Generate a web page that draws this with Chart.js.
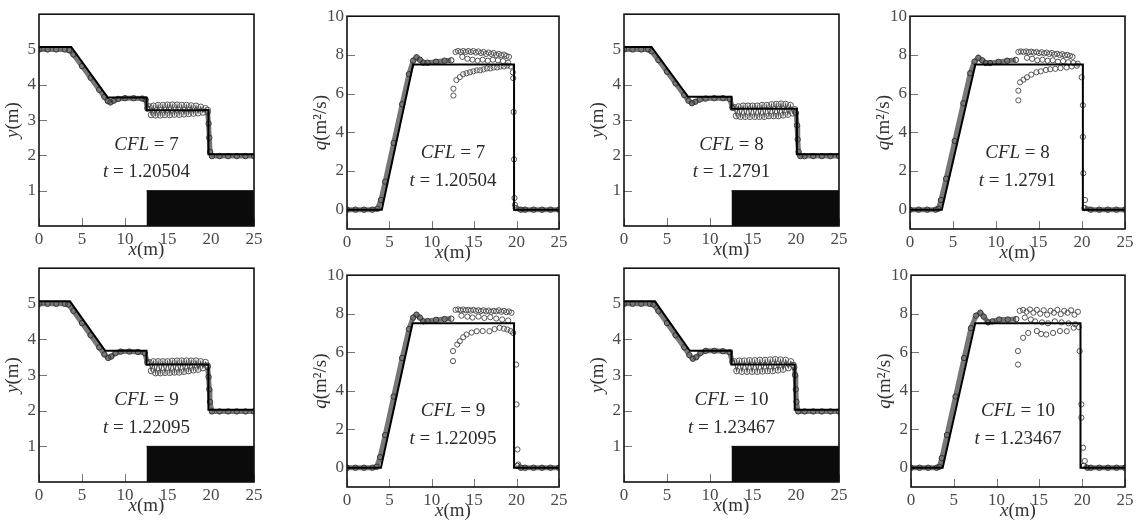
<!DOCTYPE html>
<html lang="en">
<head>
<meta charset="UTF-8">
<title>Dam break over a step: depth and discharge, CFL 7-10</title>
<script src="https://cdn.jsdelivr.net/npm/chart.js"></script>
<style>
  body { margin: 0; width: 1136px; height: 522px; background: #fff; position: relative; overflow: hidden; }
  .panel { position: absolute; }
</style>
</head>
<body>
<script>
// ---- data -------------------------------------------------------------
const xTicks = [0, 5, 10, 15, 20, 25];
const hTicks = [1, 2, 3, 4, 5];
const qTicks = [0, 2, 4, 6, 8, 10];
const cflValues = [7, 8, 9, 10];
const timeLabels = ['1.20504', '1.2791', '1.22095', '1.23467'];
const bedStep = [[12.5, 1], [25, 1]];

// CFL = 7
const hExact7 = [[0,5.07],[3.75,5.07],[8.0,3.64],[12.5,3.64],[12.5,3.28],[19.7,3.28],[19.7,2.03],[25,2.03]];
const hBand7 = [[0,5.0],[1,5.0],[2,5.0],[3,5.0],[3.5,4.98],[4,4.86],[5,4.53],[6,4.2],[7,3.86],[7.6,3.66],[8.0,3.54],[8.3,3.5],[8.7,3.55],[9.2,3.6],[10,3.62],[11,3.62],[12,3.61],[12.4,3.58],[12.6,3.33],[12.7,null],[19.6,3.22],[19.72,2.9],[19.8,2.5],[19.9,2.1],[20.1,1.98],[21,1.98],[22,1.98],[23,1.98],[24,1.98],[25,1.98]];
const hWiggle7 = [[12.8,3.38],[13.05,3.15],[13.3,3.4],[13.55,3.14],[13.85,3.42],[14.1,3.14],[14.4,3.42],[14.65,3.15],[14.95,3.43],[15.2,3.15],[15.5,3.43],[15.75,3.16],[16.05,3.43],[16.3,3.16],[16.6,3.42],[16.85,3.17],[17.15,3.42],[17.4,3.18],[17.7,3.41],[17.95,3.19],[18.25,3.4],[18.5,3.2],[18.8,3.37],[19.05,3.22],[19.35,3.33],[19.6,3.28]];
const qExact7 = [[0,0],[4.1,0],[7.8,7.5],[19.7,7.5],[19.7,0],[25,0]];
const qBand7 = [[0,0],[1,0],[2,0],[3,0],[3.6,0.05],[4.0,0.5],[4.5,1.45],[5.5,3.45],[6.5,5.45],[7.3,7.0],[7.8,7.7],[8.2,7.88],[8.6,7.75],[9.0,7.6],[9.5,7.6],[10.5,7.65],[11.5,7.7],[12.3,7.72],[12.4,null],[19.9,0.08],[20.5,0],[21,0],[22,0],[23,0],[24,0],[25,0]];
const qScatter7 = [[12.8,8.15],[13.1,8.2],[13.4,8.15],[13.7,8.2],[14.0,8.15],[14.3,8.2],[14.6,8.15],[14.9,8.2],[15.2,8.12],[15.5,8.18],[15.8,8.1],[16.1,8.15],[16.4,8.05],[16.7,8.12],[17.0,8.05],[17.3,8.1],[17.6,8.0],[17.9,8.05],[18.2,7.98],[18.5,8.02],[18.8,7.95],[19.1,7.9],
  [13.6,7.9],[14.2,7.8],[14.8,7.75],[15.4,7.7],[16.0,7.75],[16.6,7.7],[17.2,7.75],[17.8,7.72],[18.4,7.68],[19.0,7.6],
  [12.9,6.7],[13.3,6.85],[13.7,7.0],[14.1,7.05],[14.5,7.1],[14.9,7.15],[15.3,7.2],[15.7,7.2],[16.1,7.25],[16.5,7.3],[16.9,7.3],[17.3,7.35],[17.7,7.35],[18.1,7.4],[18.5,7.4],[18.9,7.45],[19.3,7.4],
  [12.55,6.25],[12.55,5.9],
  [19.55,7.1],[19.6,6.8],[19.65,5.05],[19.7,2.6],[19.75,0.6],[19.8,0.25]];

// CFL = 8
const hExact8 = [[0,5.07],[3.2,5.07],[7.45,3.66],[12.5,3.66],[12.5,3.32],[20.1,3.32],[20.1,2.03],[25,2.03]];
const hBand8 = [[0,5.0],[1,5.0],[2,5.0],[2.8,5.0],[3.2,4.95],[4,4.7],[5,4.37],[6,4.04],[7,3.71],[7.5,3.55],[7.9,3.48],[8.3,3.52],[8.8,3.58],[9.5,3.61],[10.5,3.62],[11.5,3.62],[12.3,3.6],[12.6,3.35],[12.7,null],[20.0,3.2],[20.12,2.85],[20.2,2.45],[20.3,2.1],[20.5,1.98],[21,1.98],[22,1.98],[23,1.98],[24,1.98],[25,1.98]];
const hWiggle8 = [[12.8,3.36],[13.05,3.12],[13.3,3.38],[13.55,3.1],[13.85,3.4],[14.1,3.1],[14.4,3.4],[14.65,3.1],[14.95,3.4],[15.2,3.1],[15.5,3.4],[15.75,3.1],[16.05,3.42],[16.3,3.1],[16.6,3.42],[16.85,3.12],[17.15,3.44],[17.4,3.12],[17.7,3.45],[17.95,3.12],[18.25,3.46],[18.5,3.14],[18.8,3.45],[19.05,3.16],[19.35,3.42],[19.6,3.2],[19.85,3.3]];
const qExact8 = [[0,0],[3.7,0],[7.6,7.5],[20.1,7.5],[20.1,0],[25,0]];
const qBand8 = [[0,0],[1,0],[2,0],[3,0],[3.3,0.05],[3.6,0.5],[4.2,1.6],[5.2,3.55],[6.2,5.5],[7.0,7.05],[7.5,7.65],[7.95,7.85],[8.4,7.72],[8.8,7.58],[9.3,7.58],[10.3,7.64],[11.3,7.7],[12.3,7.74],[12.4,null],[20.3,0.08],[21,0],[22,0],[23,0],[24,0],[25,0]];
const qScatter8 = [[12.6,8.15],[12.9,8.18],[13.2,8.15],[13.5,8.18],[13.8,8.14],[14.1,8.17],[14.4,8.12],[14.7,8.15],[15.0,8.1],[15.3,8.14],[15.6,8.08],[15.9,8.12],[16.2,8.05],[16.5,8.1],[16.8,8.02],[17.1,8.06],[17.4,8.0],[17.7,8.04],[18.0,7.98],[18.3,8.0],[18.6,7.95],[18.9,7.9],
  [13.6,7.85],[14.2,7.8],[14.8,7.72],[15.4,7.75],[16.0,7.7],[16.6,7.72],[17.2,7.65],[17.8,7.68],[18.4,7.62],[19.0,7.58],[19.5,7.55],
  [12.8,6.58],[13.2,6.72],[13.6,6.84],[14.1,6.98],[14.7,7.1],[15.2,7.15],[15.8,7.22],[16.3,7.26],[16.9,7.28],[17.5,7.32],[18.2,7.35],[18.8,7.4],[19.4,7.44],
  [12.6,6.15],[12.6,5.65],
  [19.96,6.84],[20.1,5.4],[20.1,3.76],[20.15,1.88],[20.35,0.5]];

// CFL = 9
const hExact9 = [[0,5.07],[3.6,5.07],[7.7,3.68],[12.5,3.68],[12.5,3.3],[19.7,3.3],[19.7,2.03],[25,2.03]];
const hBand9 = [[0,5.0],[1,5.0],[2,5.0],[3,5.0],[3.4,4.98],[4,4.8],[5,4.46],[6,4.12],[7,3.78],[7.6,3.58],[8.05,3.48],[8.4,3.52],[8.9,3.62],[9.5,3.66],[10.5,3.66],[11.5,3.65],[12.3,3.62],[12.6,3.35],[12.7,null],[19.6,3.22],[19.72,2.95],[19.8,2.6],[19.88,2.25],[20.1,1.98],[21,1.98],[22,1.98],[23,1.98],[24,1.98],[25,1.98]];
const hWiggle9 = [[12.8,3.36],[13.05,3.12],[13.3,3.38],[13.55,3.06],[13.85,3.38],[14.1,3.06],[14.4,3.38],[14.65,3.07],[14.95,3.38],[15.2,3.07],[15.5,3.39],[15.75,3.08],[16.05,3.4],[16.3,3.08],[16.6,3.4],[16.85,3.1],[17.15,3.4],[17.4,3.12],[17.7,3.4],[17.95,3.14],[18.25,3.4],[18.5,3.16],[18.8,3.38],[19.05,3.2],[19.35,3.36],[19.6,3.26]];
const qExact9 = [[0,0],[4.0,0],[7.73,7.5],[19.7,7.5],[19.7,0],[25,0]];
const qBand9 = [[0,0],[1,0],[2,0],[3,0],[3.5,0.05],[3.9,0.55],[4.5,1.7],[5.5,3.7],[6.5,5.7],[7.3,7.2],[7.8,7.8],[8.2,7.95],[8.6,7.8],[9.0,7.6],[9.5,7.62],[10.5,7.68],[11.5,7.72],[12.3,7.74],[12.4,null],[20.1,0.1],[20.5,0],[21,0],[22,0],[23,0],[24,0],[25,0]];
const qScatter9 = [[12.8,8.2],[13.1,8.22],[13.4,8.18],[13.7,8.22],[14.0,8.18],[14.3,8.2],[14.6,8.16],[14.9,8.2],[15.2,8.15],[15.5,8.18],[15.8,8.14],[16.1,8.18],[16.4,8.12],[16.7,8.16],[17.0,8.1],[17.3,8.15],[17.6,8.12],[17.9,8.18],[18.2,8.1],[18.5,8.15],[18.8,8.08],[19.1,8.12],[19.4,8.05],
  [13.5,7.9],[14.2,7.85],[14.8,7.8],[15.5,7.85],[16.2,7.78],[16.9,7.82],[17.6,7.75],[18.3,7.7],[19.0,7.65],
  [13.0,6.4],[13.3,6.57],[13.7,6.78],[14.1,6.92],[14.7,7.02],[15.3,7.09],[16.0,7.1],[16.8,7.09],[17.4,7.2],[18.0,7.27],[18.5,7.22],[18.9,7.18],[19.3,7.1],
  [12.5,6.06],[12.5,5.54],
  [19.6,7.0],[19.95,5.36],[20.0,3.29],[20.1,0.95],[20.2,0.17]];

// CFL = 10
const hExact10 = [[0,5.07],[3.6,5.07],[7.65,3.68],[12.5,3.68],[12.5,3.3],[19.85,3.3],[19.85,2.03],[25,2.03]];
const hBand10 = [[0,5.0],[1,5.0],[2,5.0],[3,5.0],[3.4,4.98],[4,4.8],[5,4.46],[6,4.12],[7,3.78],[7.6,3.56],[8.0,3.46],[8.4,3.5],[8.9,3.62],[9.5,3.68],[10.5,3.68],[11.5,3.67],[12.3,3.64],[12.6,3.36],[12.7,null],[19.8,3.22],[19.9,3.0],[19.98,2.6],[20.05,2.25],[20.25,1.98],[21,1.98],[22,1.98],[23,1.98],[24,1.98],[25,1.98]];
const hWiggle10 = [[12.8,3.38],[13.1,3.12],[13.4,3.4],[13.7,3.1],[14.0,3.4],[14.3,3.1],[14.6,3.41],[14.9,3.1],[15.2,3.41],[15.5,3.1],[15.8,3.42],[16.1,3.11],[16.4,3.42],[16.7,3.12],[17.0,3.43],[17.3,3.12],[17.6,3.44],[17.9,3.14],[18.2,3.43],[18.5,3.16],[18.8,3.42],[19.1,3.2],[19.4,3.38],[19.7,3.28]];
const qExact10 = [[0,0],[3.7,0],[7.5,7.5],[19.8,7.5],[19.8,0],[25,0]];
const qBand10 = [[0,0],[1,0],[2,0],[3,0],[3.3,0.05],[3.6,0.5],[4.2,1.7],[5.2,3.7],[6.2,5.7],[7.0,7.25],[7.6,7.9],[8.1,8.05],[8.5,7.85],[9.0,7.55],[9.5,7.6],[10.3,7.7],[11.3,7.7],[12.3,7.72],[12.4,null],[20.2,0.1],[20.6,0],[21,0],[22,0],[23,0],[24,0],[25,0]];
const qScatter10 = [[12.7,8.15],[13.1,8.2],[13.5,8.1],[13.9,8.22],[14.3,8.05],[14.7,8.2],[15.1,8.0],[15.5,8.18],[15.9,7.95],[16.3,8.15],[16.7,8.05],[17.1,8.2],[17.5,7.98],[17.9,8.15],[18.3,8.05],[18.7,8.18],[19.1,7.95],[19.5,8.1],
  [13.3,7.8],[14.0,7.7],[14.5,7.6],[15.3,7.55],[16.0,7.5],[16.8,7.6],[17.6,7.55],[18.4,7.5],[19.2,7.45],[19.6,7.3],
  [13.1,6.75],[13.7,7.0],[14.7,7.1],[15.2,6.95],[15.8,6.92],[16.6,7.0],[17.4,7.1],[18.2,7.09],[19.0,7.27],
  [12.5,6.06],[12.5,5.36],
  [19.7,6.06],[19.9,3.29],[19.9,2.6],[20.1,1.04],[20.3,0.35]];

const hExact = [hExact7, hExact8, hExact9, hExact10];
const hBand = [hBand7, hBand8, hBand9, hBand10];
const hWiggle = [hWiggle7, hWiggle8, hWiggle9, hWiggle10];
const qExact = [qExact7, qExact8, qExact9, qExact10];
const qBand = [qBand7, qBand8, qBand9, qBand10];
const qScatter = [qScatter7, qScatter8, qScatter9, qScatter10];

// ---- layout -----------------------------------------------------------
// plot-area boxes in page pixels; kind 'h' = depth, 'q' = discharge
const panelBoxes = [
  { kind: 'h', run: 0, left: 39,  top: 13,  w: 215, h: 213 },
  { kind: 'q', run: 0, left: 347, top: 15,  w: 212, h: 214 },
  { kind: 'h', run: 1, left: 624, top: 13,  w: 215, h: 213 },
  { kind: 'q', run: 1, left: 910, top: 15,  w: 215, h: 214 },
  { kind: 'h', run: 2, left: 39,  top: 267, w: 215, h: 215 },
  { kind: 'q', run: 2, left: 347, top: 274, w: 212, h: 213 },
  { kind: 'h', run: 3, left: 624, top: 267, w: 215, h: 215 },
  { kind: 'q', run: 3, left: 911, top: 274, w: 214, h: 213 }
];
const PAD_L = 38, PAD_T = 12, PAD_R = 12, PAD_B = 36;
const serif = '"Liberation Serif", "DejaVu Serif", serif';
const tickFont = 17, titleFont = 19, noteFont = 19;

const toXY = pairs => pairs.map(p => ({ x: p[0], y: p[1] }));

// draw a run of [text, italic] pieces centred on (cx, cy)
function drawRuns(ctx, runs, cx, cy, size) {
  const fonts = runs.map(r => (r[1] ? 'italic ' : '') + size + 'px ' + serif);
  const widths = runs.map((r, k) => { ctx.font = fonts[k]; return ctx.measureText(r[0]).width; });
  let x = cx - widths.reduce((a, b) => a + b, 0) / 2;
  ctx.textAlign = 'left';
  ctx.textBaseline = 'middle';
  runs.forEach((r, k) => { ctx.font = fonts[k]; ctx.fillText(r[0], x, cy); x += widths[k]; });
}

function decorPlugin(box) {
  const isH = box.kind === 'h';
  return {
    id: 'panelDecor',
    beforeDatasetsDraw(chart) {
      // short inward tick marks on the bottom and left edges
      const { ctx, chartArea: a, scales: { x, y } } = chart;
      ctx.save();
      ctx.strokeStyle = '#777';
      ctx.lineWidth = 1;
      ctx.beginPath();
      x.ticks.forEach(t => {
        const px = Math.round(x.getPixelForValue(t.value)) + 0.5;
        ctx.moveTo(px, a.bottom); ctx.lineTo(px, a.bottom - 8);
      });
      y.ticks.forEach(t => {
        const py = Math.round(y.getPixelForValue(t.value)) + 0.5;
        ctx.moveTo(a.left, py); ctx.lineTo(a.left + 8, py);
      });
      ctx.stroke();
      ctx.restore();
    },
    afterDatasetsDraw(chart) {
      const { ctx, chartArea: a, scales: { x, y } } = chart;
      ctx.save();
      ctx.strokeStyle = '#111';
      ctx.lineWidth = 1.6;
      ctx.strokeRect(a.left, a.top, a.right - a.left, a.bottom - a.top);

      ctx.fillStyle = '#333';
      drawRuns(ctx, [['x', true], ['(m)', false]], (a.left + a.right) / 2, a.bottom + 24, titleFont);

      ctx.save();
      ctx.translate(a.left - 26, (a.top + a.bottom) / 2);
      ctx.rotate(-Math.PI / 2);
      drawRuns(ctx, isH ? [['y', true], ['(m)', false]] : [['q', true], ['(m\u00b2/s)', false]], 0, 0, titleFont);
      ctx.restore();

      const cx = x.getPixelForValue(12.5);
      const rows = isH ? [2.3, 1.52] : [2.95, 1.5];
      ctx.fillStyle = '#2a2a2a';
      drawRuns(ctx, [['CFL', true], [' = ' + cflValues[box.run], false]], cx, y.getPixelForValue(rows[0]), noteFont);
      drawRuns(ctx, [['t', true], [' = ' + timeLabels[box.run], false]], cx, y.getPixelForValue(rows[1]), noteFont);
      ctx.restore();
    }
  };
}

function buildPanel(box) {
  const isH = box.kind === 'h';
  const i = box.run;
  const div = document.createElement('div');
  div.className = 'panel';
  div.style.left = (box.left - PAD_L) + 'px';
  div.style.top = (box.top - PAD_T) + 'px';
  div.style.width = (box.w + PAD_L + PAD_R) + 'px';
  div.style.height = (box.h + PAD_T + PAD_B) + 'px';
  const canvas = document.createElement('canvas');
  div.appendChild(canvas);
  document.body.appendChild(div);

  const datasets = [
    { data: toXY(isH ? hExact[i] : qExact[i]), borderColor: '#000', borderWidth: 2, pointRadius: 0 },
    { data: toXY(isH ? hWiggle[i] : qScatter[i]), showLine: isH, borderColor: 'rgba(50,50,50,0.85)', borderWidth: 1.2,
      pointRadius: isH ? 3 : 2.6, pointBorderColor: '#555', pointBorderWidth: 1, pointBackgroundColor: 'rgba(255,255,255,0)' },
    { data: toXY(isH ? hBand[i] : qBand[i]), borderColor: 'rgba(95,95,95,0.85)', borderWidth: 5,
      pointRadius: 2.7, pointBorderColor: '#333', pointBorderWidth: 1, pointBackgroundColor: 'rgba(255,255,255,0)' }
  ];
  if (isH) {
    datasets.push({ data: toXY(bedStep), fill: 'origin', backgroundColor: '#0b0b0b', borderColor: '#0b0b0b', borderWidth: 1, pointRadius: 0 });
  }

  const tickStyle = { color: '#4a4a4a', font: { family: serif, size: tickFont }, padding: 3 };
  new Chart(canvas, {
    type: 'line',
    data: { datasets },
    options: {
      responsive: true,
      maintainAspectRatio: false,
      animation: false,
      layout: { padding: { top: PAD_T, right: PAD_R, left: 0, bottom: 0 } },
      plugins: { legend: { display: false }, tooltip: { enabled: false } },
      scales: {
        x: {
          type: 'linear', min: 0, max: 25,
          grid: { display: false, drawTicks: false }, border: { display: false },
          ticks: tickStyle,
          afterBuildTicks: s => { s.ticks = xTicks.map(v => ({ value: v })); },
          afterFit: s => { s.height = PAD_B; }
        },
        y: {
          type: 'linear', min: isH ? 0 : -1, max: isH ? 6 : 10,
          grid: { display: false, drawTicks: false }, border: { display: false },
          ticks: tickStyle,
          afterBuildTicks: s => { s.ticks = (isH ? hTicks : qTicks).map(v => ({ value: v })); },
          afterFit: s => { s.width = PAD_L; }
        }
      }
    },
    plugins: [decorPlugin(box)]
  });
}

panelBoxes.forEach(buildPanel);
</script>
</body>
</html>
